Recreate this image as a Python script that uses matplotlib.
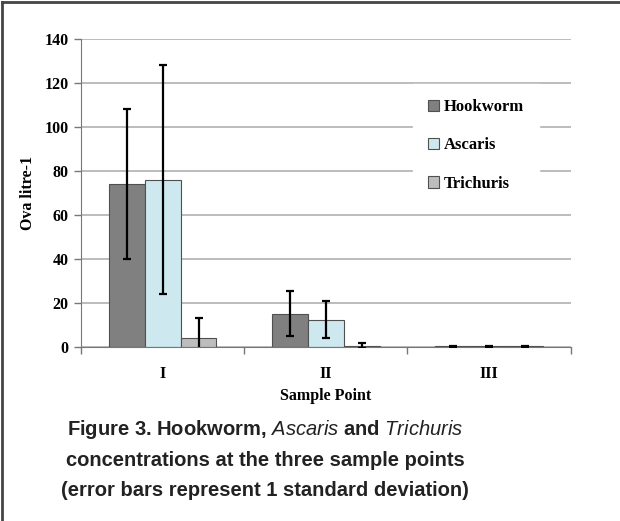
import numpy as np
import matplotlib
matplotlib.use('Agg')
import matplotlib.pyplot as plt
from matplotlib.lines import Line2D

points = ['I', 'II', 'III']
species = ['Hookworm', 'Ascaris', 'Trichuris']
hookworm = [74, 15, 0.1]
hookworm_sd = [34, 10.3, 0.1]
ascaris = [76, 12.3, 0.1]
ascaris_sd = [52, 8.5, 0.1]
trichuris = [4, 0.5, 0.1]
trichuris_sd = [9, 1.0, 0.1]

colors = ['#808080', '#cde9ef', '#bdbdbd']

plt.rcParams['font.family'] = ['Liberation Serif', 'DejaVu Serif']
plt.rcParams['mathtext.fontset'] = 'custom'
plt.rcParams['mathtext.it'] = 'Liberation Sans:italic'
plt.rcParams['mathtext.rm'] = 'Liberation Sans:bold'

fig = plt.figure(figsize=(6.2, 5.21), dpi=100)
ax = fig.add_axes([0.1306, 0.3346, 0.7899, 0.5905])

x = np.arange(len(points))
w = 0.22
series = [(hookworm, hookworm_sd), (ascaris, ascaris_sd), (trichuris, trichuris_sd)]
for i, (vals, sd) in enumerate(series):
    ax.bar(x + (i - 1) * w, vals, w, color=colors[i], edgecolor='#505050',
           linewidth=0.8, label=species[i], zorder=2)
    ax.errorbar(x + (i - 1) * w, vals, yerr=sd, fmt='none', ecolor='black',
                elinewidth=1.6, capsize=3, capthick=1.6, zorder=3)

ax.set_xlim(-0.5, 2.5)
ax.set_ylim(0, 140)
ax.set_yticks(range(0, 141, 20))
ax.set_xticks(x)
ax.set_xticklabels(points)
ax.set_xticks([-0.5, 0.5, 1.5, 2.5], minor=True)
ax.tick_params(axis='x', which='major', length=0, pad=14)
ax.tick_params(axis='x', which='minor', length=5, color='#777777', width=1)
ax.tick_params(axis='y', length=5, color='#777777', width=1, pad=4)
for lab in ax.get_xticklabels() + ax.get_yticklabels():
    lab.set_fontweight('bold')
    lab.set_fontsize(11.5)

ax.yaxis.grid(True, color='#aaaaaa', linewidth=1.1, zorder=0)
ax.set_axisbelow(True)
for s in ['top', 'right']:
    ax.spines[s].set_visible(False)
ax.spines['left'].set_color('#777777')
ax.spines['bottom'].set_color('#777777')

ax.set_ylabel('Ova litre-1', fontsize=11.5, fontweight='bold', labelpad=6)
ax.set_xlabel('Sample Point', fontsize=11.5, fontweight='bold', labelpad=4)

leg = ax.legend(loc='upper left', bbox_to_anchor=(0.66, 0.88), frameon=True,
                facecolor='white', edgecolor='white', framealpha=1,
                handlelength=0.7, handleheight=0.7, handletextpad=0.3,
                labelspacing=1.33, borderpad=0.9, fancybox=False,
                prop={'weight': 'bold', 'size': 12})

cap_kw = dict(ha='center', va='center', fontsize=14.5, fontweight='bold',
              family='Liberation Sans', color='#222222')
fig.text(0.428, 0.175, 'Figure 3. Hookworm, $Ascaris$ and $Trichuris$', **cap_kw)
fig.text(0.428, 0.117, 'concentrations at the three sample points', **cap_kw)
fig.text(0.428, 0.059, '(error bars represent 1 standard deviation)', **cap_kw)

fig.add_artist(Line2D([0.004, 1.0], [0.997, 0.997], color='#444444', linewidth=2))
fig.add_artist(Line2D([0.004, 0.004], [0.0, 0.997], color='#444444', linewidth=2))

fig.savefig('out.png', dpi=100)
